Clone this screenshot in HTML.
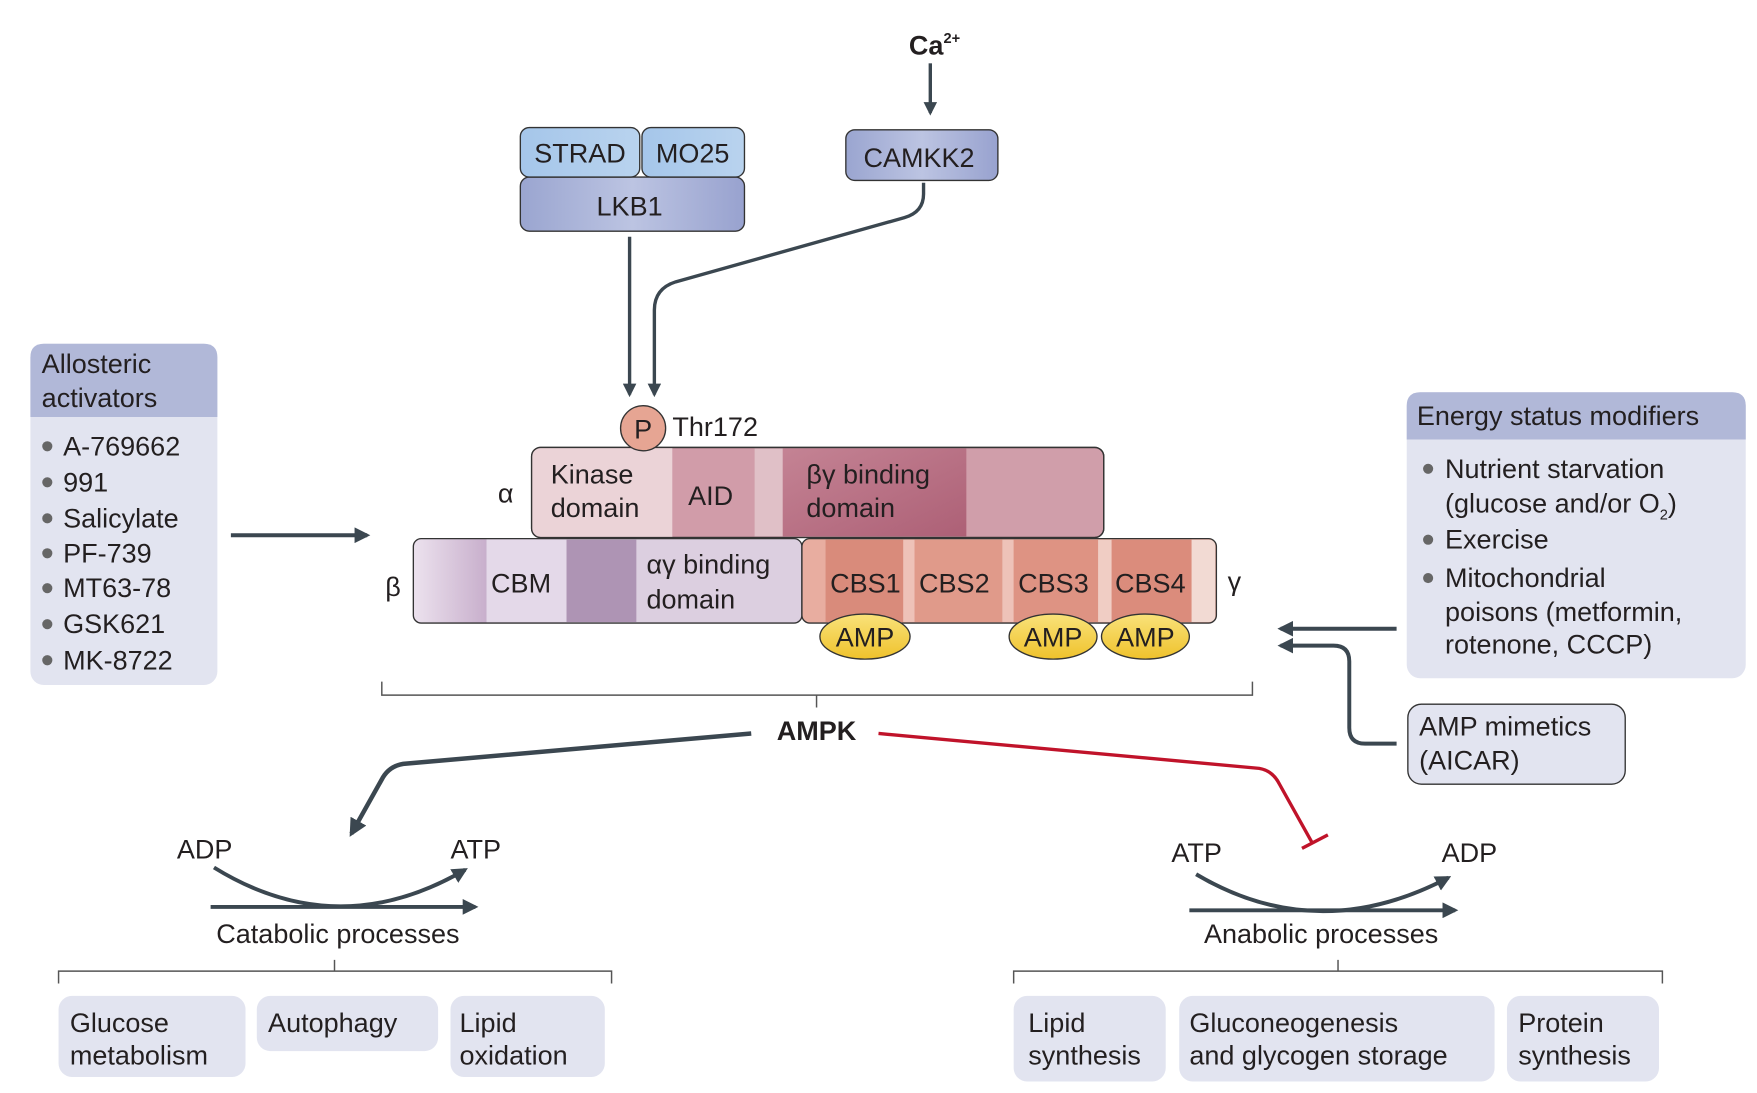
<!DOCTYPE html>
<html><head><meta charset="utf-8"><style>
html,body{margin:0;padding:0;background:#fff}
svg{display:block}
text{font-family:"Liberation Sans",sans-serif;fill:#231f20;font-size:24px}
</style></head><body>
<svg width="1757" height="1093" viewBox="0 0 1560 970" xmlns="http://www.w3.org/2000/svg">
<defs>
<marker id="ah" viewBox="0 0 10 10" refX="8" refY="5" markerWidth="4" markerHeight="4" orient="auto-start-reverse"><path d="M0,0 L10,5 L0,10 z" fill="#3b4750"/></marker>
<linearGradient id="amp" x1="0" y1="0" x2="0" y2="1"><stop offset="0" stop-color="#f9e27a"/><stop offset="1" stop-color="#efc22c"/></linearGradient>
<linearGradient id="blue" x1="0" y1="0" x2="1" y2="0"><stop offset="0" stop-color="#9aa5d0"/><stop offset="0.5" stop-color="#bcc4e2"/><stop offset="1" stop-color="#98a2cf"/></linearGradient>
<linearGradient id="lb" x1="0" y1="0" x2="1" y2="0"><stop offset="0" stop-color="#a5c6ea"/><stop offset="1" stop-color="#b9d3ee"/></linearGradient>
<linearGradient id="bg1" x1="0" y1="0" x2="1" y2="0"><stop offset="0" stop-color="#ece2ee"/><stop offset="1" stop-color="#c8afcc"/></linearGradient>
<linearGradient id="dk" x1="0" y1="0" x2="1" y2="1"><stop offset="0" stop-color="#c48394"/><stop offset="1" stop-color="#ad6076"/></linearGradient>
</defs>

<!-- Ca2+ -->
<text x="807" y="48" font-weight="bold" font-size="24">Ca<tspan font-size="13" dy="-10">2+</tspan></text>
<line x1="826" y1="56" x2="826" y2="100" stroke="#3b4750" stroke-width="3" marker-end="url(#ah)"/>

<!-- CAMKK2 -->
<rect x="751" y="115" width="135" height="45" rx="8" fill="url(#blue)" stroke="#333" stroke-width="1.2"/>
<text x="816" y="148" text-anchor="middle">CAMKK2</text>

<!-- STRAD MO25 LKB1 -->
<rect x="462" y="157" width="199" height="48" rx="8" fill="url(#blue)" stroke="#333" stroke-width="1.2"/>
<rect x="462" y="113" width="106" height="44" rx="8" fill="url(#lb)" stroke="#333" stroke-width="1.2"/>
<rect x="570" y="113" width="91" height="44" rx="8" fill="url(#lb)" stroke="#333" stroke-width="1.2"/>
<text x="515" y="144" text-anchor="middle">STRAD</text>
<text x="615" y="144" text-anchor="middle">MO25</text>
<text x="559" y="191" text-anchor="middle">LKB1</text>

<!-- arrows to Thr172 -->
<line x1="559" y1="210" x2="559" y2="350" stroke="#3b4750" stroke-width="3" marker-end="url(#ah)"/>
<path d="M820,162 L820,172 Q820,188 803,193 L600,250 Q581,256 581,275 L581,350" fill="none" stroke="#3b4750" stroke-width="3" marker-end="url(#ah)"/>

<!-- alpha -->
<text x="442" y="446">α</text>
<g>
<rect x="472" y="397" width="508" height="80" rx="8" fill="#d09eaa" stroke="#333" stroke-width="1.2"/>
<path d="M480,397 L597,397 L597,477 L480,477 Q472,477 472,469 L472,405 Q472,397 480,397z" fill="#ebd3d7"/>
<rect x="597" y="398" width="73" height="78" fill="#d19ca9"/>
<rect x="670" y="398" width="25" height="78" fill="#e0c0c7"/>
<rect x="695" y="398" width="163" height="78" fill="url(#dk)"/>
<rect x="472" y="397" width="508" height="80" rx="8" fill="none" stroke="#333" stroke-width="1.2"/>
</g>
<text x="489" y="429">Kinase</text><text x="489" y="459">domain</text>
<text x="611" y="448">AID</text>
<text x="716" y="429">βγ binding</text><text x="716" y="459">domain</text>

<!-- P -->
<circle cx="571" cy="380" r="20" fill="#e6a593" stroke="#333" stroke-width="1.2"/>
<text x="571" y="389" text-anchor="middle">P</text>
<text x="597" y="387" font-size="21">Thr172</text>

<!-- beta -->
<text x="342" y="529">β</text>
<rect x="367" y="478" width="345" height="75" rx="7" fill="#dccfe0"/>
<path d="M374,478 L432,478 L432,553 L374,553 Q367,553 367,546 L367,485 Q367,478 374,478z" fill="url(#bg1)"/>
<rect x="432" y="479" width="71" height="73" fill="#e4d9e9"/>
<rect x="503" y="479" width="62" height="73" fill="#ae94b4"/>
<rect x="367" y="478" width="345" height="75" rx="7" fill="none" stroke="#333" stroke-width="1.2"/>
<text x="436" y="526">CBM</text>
<text x="574" y="509">αγ binding</text><text x="574" y="540">domain</text>

<!-- gamma -->
<rect x="712" y="478" width="368" height="75" rx="7" fill="#e8ada0"/>
<rect x="733" y="479" width="69" height="73" fill="#d98b7b"/>
<rect x="802" y="479" width="10" height="73" fill="#eec2b8"/>
<rect x="812" y="479" width="78" height="73" fill="#e09a8a"/>
<rect x="890" y="479" width="10" height="73" fill="#eec2b8"/>
<rect x="900" y="479" width="75" height="73" fill="#de9383"/>
<rect x="975" y="479" width="12" height="73" fill="#f0cdc4"/>
<rect x="987" y="479" width="71" height="73" fill="#db8c7c"/>
<path d="M1058,479 L1073,479 Q1079,479 1079,485 L1079,546 Q1079,552 1073,552 L1058,552z" fill="#f2dad3"/>
<rect x="712" y="478" width="368" height="75" rx="7" fill="none" stroke="#333" stroke-width="1.2"/>
<text x="737" y="526">CBS1</text><text x="816" y="526">CBS2</text><text x="904" y="526">CBS3</text><text x="990" y="526">CBS4</text>
<text x="1090" y="524">γ</text>

<g stroke="#333" stroke-width="1.2" fill="url(#amp)">
<ellipse cx="768" cy="565" rx="40" ry="20"/>
<ellipse cx="935" cy="565" rx="39" ry="20"/>
<ellipse cx="1017" cy="565" rx="39" ry="20"/>
</g>
<text x="768" y="574" text-anchor="middle">AMP</text>
<text x="935" y="574" text-anchor="middle">AMP</text>
<text x="1017" y="574" text-anchor="middle">AMP</text>

<!-- bracket -->
<path d="M339,605 L339,617 L1112,617 L1112,605 M725,617 L725,628" fill="none" stroke="#555" stroke-width="1.3"/>
<text x="725" y="657" text-anchor="middle" font-weight="bold">AMPK</text>

<!-- AMPK arrows -->
<path d="M667,651 L358,678 Q346,680 340,690 L312,740" fill="none" stroke="#3b4750" stroke-width="4" marker-end="url(#ah)"/>
<path d="M780,651 L1118,682 Q1130,684 1136,696 L1165,748" fill="none" stroke="#c0132a" stroke-width="3"/>
<line x1="1156" y1="753" x2="1179" y2="741" stroke="#c0132a" stroke-width="3"/>

<!-- catabolic -->
<text x="157" y="762">ADP</text><text x="400" y="762">ATP</text>
<path d="M190,770 Q300,838 413,772" fill="none" stroke="#3b4750" stroke-width="3.5" marker-end="url(#ah)"/>
<line x1="187" y1="805" x2="422" y2="805" stroke="#3b4750" stroke-width="3.5" marker-end="url(#ah)"/>
<text x="300" y="837" text-anchor="middle">Catabolic processes</text>

<!-- anabolic -->
<text x="1040" y="765">ATP</text><text x="1280" y="765">ADP</text>
<path d="M1062,776 Q1170,840 1286,779" fill="none" stroke="#3b4750" stroke-width="3.5" marker-end="url(#ah)"/>
<line x1="1056" y1="808" x2="1292" y2="808" stroke="#3b4750" stroke-width="3.5" marker-end="url(#ah)"/>
<text x="1173" y="837" text-anchor="middle">Anabolic processes</text>

<!-- bottom brackets -->
<path d="M52,873 L52,862 L543,862 L543,873 M297,862 L297,852" fill="none" stroke="#555" stroke-width="1.3"/>
<path d="M900,873 L900,862 L1476,862 L1476,873 M1188,862 L1188,852" fill="none" stroke="#555" stroke-width="1.3"/>

<g fill="#e2e4f0">
<rect x="52" y="884" width="166" height="72" rx="12"/>
<rect x="228" y="884" width="161" height="49" rx="12"/>
<rect x="400" y="884" width="137" height="72" rx="12"/>
<rect x="900" y="884" width="135" height="76" rx="12"/>
<rect x="1047" y="884" width="280" height="76" rx="12"/>
<rect x="1338" y="884" width="135" height="76" rx="12"/>
</g>
<text x="62" y="916">Glucose</text><text x="62" y="945">metabolism</text>
<text x="238" y="916">Autophagy</text>
<text x="408" y="916">Lipid</text><text x="408" y="945">oxidation</text>
<text x="913" y="916">Lipid</text><text x="913" y="945">synthesis</text>
<text x="1056" y="916">Gluconeogenesis</text><text x="1056" y="945">and glycogen storage</text>
<text x="1348" y="916">Protein</text><text x="1348" y="945">synthesis</text>

<!-- allosteric -->
<rect x="27" y="305" width="166" height="303" rx="12" fill="#e2e4f0"/>
<path d="M39,305 L181,305 Q193,305 193,317 L193,370 L27,370 L27,317 Q27,305 39,305z" fill="#b1b8d8"/>
<text x="37" y="331">Allosteric</text><text x="37" y="361">activators</text>
<g fill="#666">
<circle cx="42" cy="396" r="4.5"/><circle cx="42" cy="428" r="4.5"/><circle cx="42" cy="460" r="4.5"/><circle cx="42" cy="491" r="4.5"/><circle cx="42" cy="522" r="4.5"/><circle cx="42" cy="554" r="4.5"/><circle cx="42" cy="586" r="4.5"/>
</g>
<text x="56" y="404">A-769662</text><text x="56" y="436">991</text><text x="56" y="468">Salicylate</text><text x="56" y="499">PF-739</text><text x="56" y="530">MT63-78</text><text x="56" y="562">GSK621</text><text x="56" y="594">MK-8722</text>
<line x1="205" y1="475" x2="326" y2="475" stroke="#3b4750" stroke-width="3.5" marker-end="url(#ah)"/>

<!-- energy -->
<rect x="1249" y="348" width="301" height="254" rx="12" fill="#e2e4f0"/>
<path d="M1261,348 L1538,348 Q1550,348 1550,360 L1550,390 L1249,390 L1249,360 Q1249,348 1261,348z" fill="#b1b8d8"/>
<text x="1258" y="377">Energy status modifiers</text>
<g fill="#666"><circle cx="1268" cy="416" r="4.5"/><circle cx="1268" cy="479" r="4.5"/><circle cx="1268" cy="513" r="4.5"/></g>
<text x="1283" y="424">Nutrient starvation</text>
<text x="1283" y="455">(glucose and/or O<tspan font-size="13" dy="6">2</tspan><tspan dy="-6">)</tspan></text>
<text x="1283" y="487">Exercise</text>
<text x="1283" y="521">Mitochondrial</text>
<text x="1283" y="551">poisons (metformin,</text>
<text x="1283" y="580">rotenone, CCCP)</text>

<line x1="1240" y1="558" x2="1137" y2="558" stroke="#3b4750" stroke-width="3.5" marker-end="url(#ah)"/>
<path d="M1240,660 L1212,660 Q1198,660 1198,646 L1198,587 Q1198,573 1184,573 L1137,573" fill="none" stroke="#3b4750" stroke-width="3.5" marker-end="url(#ah)"/>

<rect x="1250" y="625" width="193" height="71" rx="12" fill="#e2e4f0" stroke="#333" stroke-width="1.2"/>
<text x="1260" y="653">AMP mimetics</text><text x="1260" y="683">(AICAR)</text>
</svg>
</body></html>
